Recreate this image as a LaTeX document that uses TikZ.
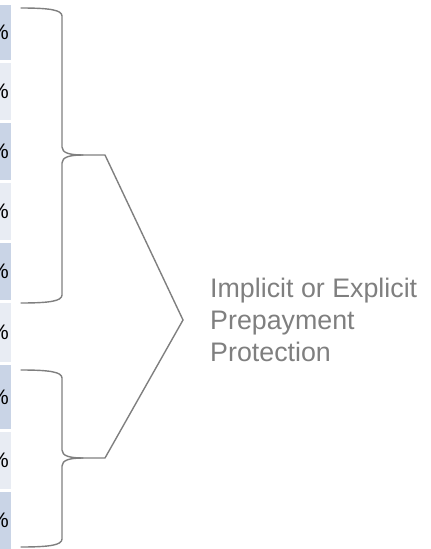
\documentclass[tikz,border=0pt]{standalone}
\usepackage{fontspec}
\setmainfont{Liberation Sans}
\usetikzlibrary{positioning}
\definecolor{celldark}{HTML}{C9D4E6}
\definecolor{celllight}{HTML}{E8ECF3}
\definecolor{linegray}{HTML}{7F7F7F}

\begin{document}
\begin{tikzpicture}[
    x=1pt, y=-1pt,
    cell/.style={rectangle, anchor=north east, text width=24pt, align=right, inner xsep=2pt, inner ysep=0pt, font=\fontsize{21}{24}\selectfont},
    darkcell/.style={cell, fill=celldark},
    lightcell/.style={cell, fill=celllight},
    brace/.style={draw=linegray, line width=1.4pt, line join=round, line cap=round},
    link/.style={draw=linegray, line width=1.4pt, line join=miter},
    label/.style={text=linegray, align=left, inner sep=0pt, font=\fontsize{26.8}{32}\selectfont}
]
\useasboundingbox (0,0) rectangle (431,549);

% Table column (cut at the left edge)
\node[darkcell,  minimum height=55pt] (row1) at (11,5)   {\%};
\node[lightcell, minimum height=57pt] (row2) at (11,63)  {\%};
\node[darkcell,  minimum height=57pt] (row3) at (11,123) {\%};
\node[lightcell, minimum height=57pt] (row4) at (11,183) {\%};
\node[darkcell,  minimum height=57pt] (row5) at (11,243) {\%};
\node[lightcell, minimum height=59pt] (row6) at (11,303) {\%};
\node[darkcell,  minimum height=64pt] (row7) at (11,365) {\%};
\node[lightcell, minimum height=57pt] (row8) at (11,432) {\%};
\node[darkcell,  minimum height=57pt] (row9) at (11,492) {\%};

% Brace tips and apex
\coordinate (tipA) at (105,155);
\coordinate (tipB) at (105,458);
\coordinate (apex) at (183,320);

% Upper brace
\draw[brace] (21,8) .. controls (50,8) and (62,10) .. (62,16) -- (62,147)
    .. controls (62,153) and (70,155) .. (83,155) -- (tipA);
\draw[brace] (83,155) .. controls (70,155) and (62,157) .. (62,163) -- (62,295)
    .. controls (62,301) and (50,303) .. (21,303);

% Lower brace
\draw[brace] (21,370) .. controls (50,370) and (62,372) .. (62,378) -- (62,450)
    .. controls (62,456) and (70,458) .. (83,458) -- (tipB);
\draw[brace] (83,458) .. controls (70,458) and (62,460) .. (62,466) -- (62,539)
    .. controls (62,545) and (50,547) .. (21,547);

% Outer bracket
\draw[link] (tipA) -- (apex) -- (tipB);

% Label
\node[label, right=27pt of apex] (note) {Implicit or Explicit\\Prepayment\\Protection};

\end{tikzpicture}
\end{document}
